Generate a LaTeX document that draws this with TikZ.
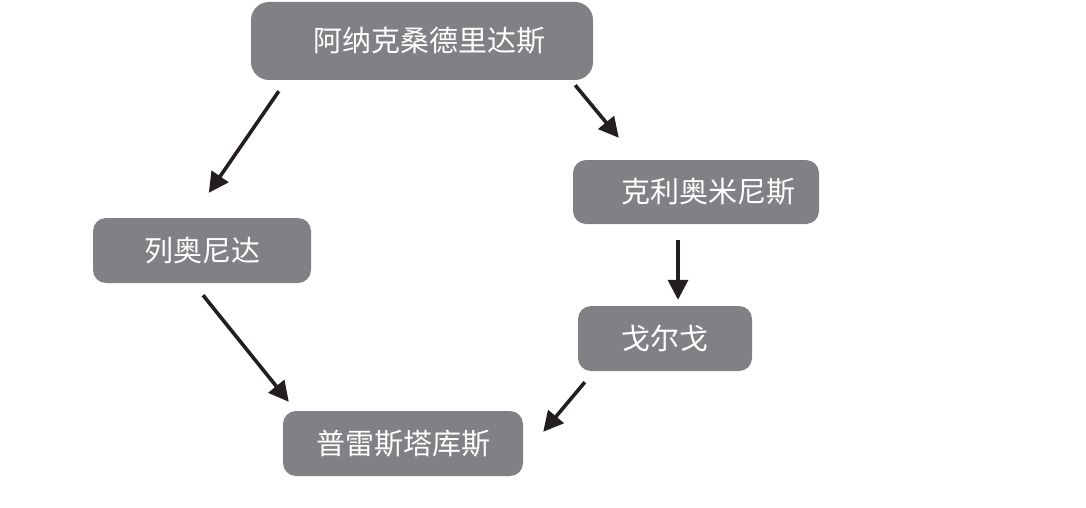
\documentclass[tikz,border=0pt]{standalone}
\usepackage{fontspec}
\newfontfamily\cjk{Noto Sans CJK SC}
\usetikzlibrary{arrows.meta,calc}
\definecolor{boxgray}{HTML}{808184}
\definecolor{arrowdark}{HTML}{231F20}
\begin{document}
\begin{tikzpicture}[x=1pt,y=-1pt,
  box/.style={fill=boxgray,draw=none,rounded corners=13pt,text=white,
    font=\cjk\fontsize{29}{32}\selectfont,inner sep=0pt,anchor=center},
  arr/.style={draw=arrowdark,line width=3.6pt,
    -{Triangle[length=20pt,width=20pt]}}]
\useasboundingbox (0,0) rectangle (1086,508);
\node[box,minimum width=342pt,minimum height=78pt,rounded corners=18pt] (top) at (422,41) {\hspace*{14pt}阿纳克桑德里达斯};
\node[box,minimum width=246pt,minimum height=64pt] (kle) at (696,192) {\hspace*{24pt}克利奥米尼斯};
\node[box,minimum width=218pt,minimum height=65pt] (leo) at (202,250.5) {列奥尼达};
\node[box,minimum width=174pt,minimum height=65pt] (gor) at (665,338.5) {戈尔戈};
\node[box,minimum width=240pt,minimum height=65pt] (ple) at (403,443.5) {普雷斯塔库斯};
\draw[arr] ($(top.south west)+(28,11)$) -- ($(leo.north west)+(116,-25)$);
\draw[arr] ($(top.south east)+(-18,5)$) -- ($(kle.north west)+(46,-22)$);
\draw[arr] ($(kle.south)+(-18,16)$) -- ($(gor.north)+(13,-6)$);
\draw[arr] ($(leo.south)+(1,12)$) -- ($(ple.north west)+(6,-9)$);
\draw[arr] ($(gor.south west)+(7,11)$) -- ($(ple.north east)+(20,21)$);
\end{tikzpicture}
\end{document}
